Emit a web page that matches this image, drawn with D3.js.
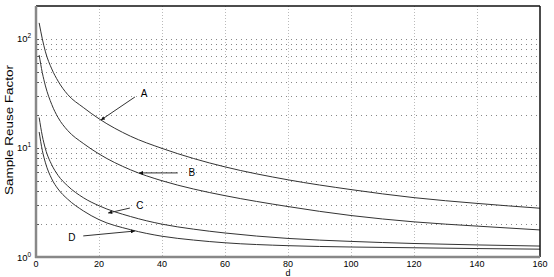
<!DOCTYPE html>
<html>
<head>
<meta charset="utf-8">
<script src="https://cdn.jsdelivr.net/npm/d3@7"></script>
<style>
  body { margin: 0; background: #fff; }
  svg { display: block; font-family: "Liberation Sans", Arial, sans-serif; }
</style>
</head>
<body>
<svg id="chart" width="554" height="277"></svg>
<script>
// data
const dVals = [1, 2, 3, 5, 7, 10, 15, 20, 30, 40, 50, 60, 80, 100, 120, 140, 160];
const seriesA = [140, 100, 76, 53, 41, 31, 23.5, 18.5, 12.8, 9.9, 8.0, 6.7, 5.1, 4.15, 3.5, 3.1, 2.8];
const seriesB = [71, 49, 37, 25, 19, 14.5, 11, 8.8, 6.3, 5.0, 4.2, 3.65, 2.9, 2.4, 2.1, 1.92, 1.77];
const seriesC = [19, 12.9, 9.8, 7.0, 5.6, 4.5, 3.5, 2.95, 2.35, 2.0, 1.8, 1.66, 1.48, 1.39, 1.33, 1.29, 1.26];
const seriesD = [14, 9.5, 7.3, 5.2, 4.2, 3.4, 2.65, 2.2, 1.78, 1.55, 1.43, 1.35, 1.27, 1.235, 1.215, 1.195, 1.18];
const xTicks = [0, 20, 40, 60, 80, 100, 120, 140, 160];
const yExps = [0, 1, 2];

// label / arrow annotations: [label, labelX(d), labelY(val), tailD, tailVal, tipD, tipVal]
const notes = [
  ["A", 34.3, 32, 31.4, 29.3, 20.6, 18],
  ["B", 49.5, 6.0, 45, 5.9, 32.7, 5.9],
  ["C", 33, 3.0, 29.8, 2.81, 22.9, 2.53],
  ["D", 11.4, 1.53, 15, 1.56, 31.4, 1.73]
];

const svg = d3.select("#chart");
const mLeft = 36, mRight = 540, mTop = 6, mBottom = 257;

const x = d3.scaleLinear().domain([0, 160]).range([mLeft, mRight]);
const y = d3.scaleLog().domain([1, 200]).range([mBottom, mTop]);

// minor log values for grid
const minorVals = [];
for (let e = 0; e <= 2; e++) {
  for (let m = 1; m <= 9; m++) {
    const v = m * Math.pow(10, e);
    if (v > 1 && v < 200) minorVals.push(v);
  }
}

// horizontal dotted grid
svg.append("g").selectAll("line").data(minorVals).join("line")
  .attr("x1", mLeft).attr("x2", mRight)
  .attr("y1", d => Math.round(y(d)) + 0.5).attr("y2", d => Math.round(y(d)) + 0.5)
  .attr("stroke", "#888").attr("stroke-width", 1)
  .attr("stroke-dasharray", "1,4");

// vertical dotted grid
svg.append("g").selectAll("line").data(xTicks.slice(1, -1)).join("line")
  .attr("x1", d => Math.round(x(d)) + 0.5).attr("x2", d => Math.round(x(d)) + 0.5)
  .attr("y1", mTop).attr("y2", mBottom)
  .attr("stroke", "#bbb").attr("stroke-width", 1)
  .attr("stroke-dasharray", "1,2");

// minor ticks on left axis
svg.append("g").selectAll("line").data(minorVals).join("line")
  .attr("x1", mLeft).attr("x2", mLeft + 3)
  .attr("y1", d => Math.round(y(d)) + 0.5).attr("y2", d => Math.round(y(d)) + 0.5)
  .attr("stroke", "#555");

// curves
const line = d3.line()
  .x((v, i) => x(dVals[i]))
  .y(v => y(v))
  .curve(d3.curveMonotoneX);

svg.append("g").selectAll("path")
  .data([seriesA, seriesB, seriesC, seriesD]).join("path")
  .attr("d", line)
  .attr("fill", "none")
  .attr("stroke", "#333")
  .attr("stroke-width", 1);

// frame
svg.append("line").attr("x1", mLeft).attr("x2", mRight).attr("y1", mTop).attr("y2", mTop)
  .attr("stroke", "#111").attr("stroke-width", 1.5);
svg.append("line").attr("x1", mRight).attr("x2", mRight).attr("y1", mTop).attr("y2", mBottom)
  .attr("stroke", "#111").attr("stroke-width", 1.5);
svg.append("line").attr("x1", mLeft).attr("x2", mLeft).attr("y1", mTop).attr("y2", mBottom + 1)
  .attr("stroke", "#888").attr("stroke-width", 2.5);
svg.append("line").attr("x1", mLeft - 1).attr("x2", mRight).attr("y1", mBottom).attr("y2", mBottom)
  .attr("stroke", "#888").attr("stroke-width", 2.5);

// x tick labels
svg.append("g").selectAll("text").data(xTicks).join("text")
  .attr("x", d => x(d)).attr("y", 267)
  .attr("text-anchor", "middle")
  .attr("font-size", 9)
  .text(d => d);

// y tick labels 10^e
const yl = svg.append("g").selectAll("text").data(yExps).join("text")
  .attr("x", 17).attr("y", d => y(Math.pow(10, d)) + 3.5)
  .attr("font-size", 9.5);
yl.append("tspan").text("10");
yl.append("tspan").attr("dy", -4).attr("font-size", 6.5).text(d => d);

// axis titles
svg.append("text").attr("x", (mLeft + mRight) / 2).attr("y", 276)
  .attr("text-anchor", "middle").attr("font-size", 9).text("d");
svg.append("text")
  .attr("transform", "translate(13,130) rotate(-90)")
  .attr("text-anchor", "middle").attr("font-size", 11)
  .attr("textLength", 130).attr("lengthAdjust", "spacingAndGlyphs")
  .text("Sample Reuse Factor");

// arrows
const defs = svg.append("defs");
defs.append("marker").attr("id", "ah")
  .attr("viewBox", "0 0 10 10").attr("refX", 10).attr("refY", 5)
  .attr("markerWidth", 7).attr("markerHeight", 4).attr("orient", "auto")
  .attr("markerUnits", "userSpaceOnUse")
  .append("path").attr("d", "M0,0L10,5L0,10z").attr("fill", "#111");

const ann = svg.append("g").selectAll("g").data(notes).join("g");
ann.append("line")
  .attr("x1", n => x(n[3])).attr("y1", n => y(n[4]))
  .attr("x2", n => x(n[5])).attr("y2", n => y(n[6]))
  .attr("stroke", "#333").attr("stroke-width", 1)
  .attr("marker-end", "url(#ah)");
ann.append("text")
  .attr("x", n => x(n[1])).attr("y", n => y(n[2]) + 4)
  .attr("text-anchor", "middle").attr("font-size", 10)
  .text(n => n[0]);
</script>
</body>
</html>
